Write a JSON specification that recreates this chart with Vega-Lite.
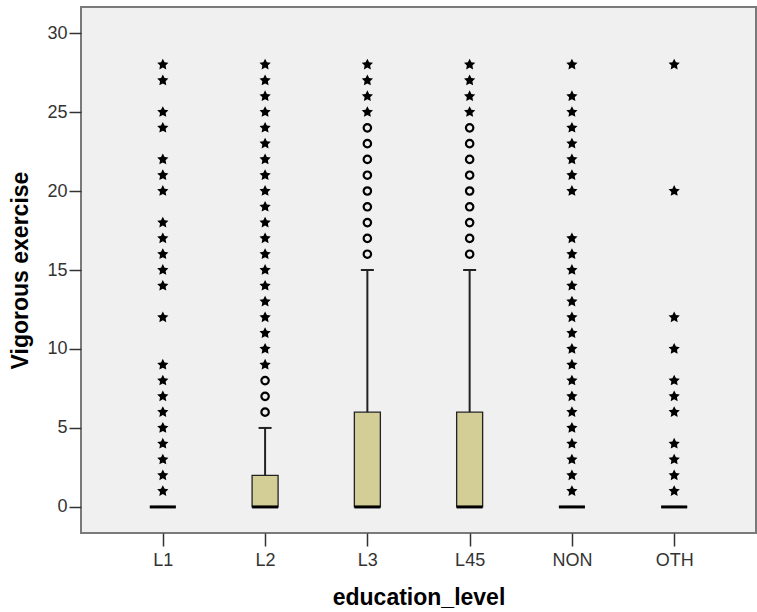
{
  "$schema": "https://vega.github.io/schema/vega-lite/v6.json",
  "autosize": {"type": "none"},
  "padding": {"left": 81, "top": 7, "right": 1, "bottom": 79},
  "width": 675,
  "height": 526,
  "background": "white",
  "config": {
    "view": {"fill": "#f0f0f0", "stroke": "#7a7a7a", "strokeWidth": 2},
    "axis": {"labelFont": "Liberation Sans", "titleFont": "Liberation Sans", "grid": false, "domain": false}
  },
  "datasets": {
    "boxes": [
      {"education_level": "L1", "q1": 0, "med": 0, "q3": 0, "hi": 0},
      {"education_level": "L2", "q1": 0, "med": 0, "q3": 2, "hi": 5},
      {"education_level": "L3", "q1": 0, "med": 0, "q3": 6, "hi": 15},
      {"education_level": "L45", "q1": 0, "med": 0, "q3": 6, "hi": 15},
      {"education_level": "NON", "q1": 0, "med": 0, "q3": 0, "hi": 0},
      {"education_level": "OTH", "q1": 0, "med": 0, "q3": 0, "hi": 0}
    ],
    "outliers": [
      {"education_level": "L1", "value": 1, "kind": "extreme"},
      {"education_level": "L1", "value": 2, "kind": "extreme"},
      {"education_level": "L1", "value": 3, "kind": "extreme"},
      {"education_level": "L1", "value": 4, "kind": "extreme"},
      {"education_level": "L1", "value": 5, "kind": "extreme"},
      {"education_level": "L1", "value": 6, "kind": "extreme"},
      {"education_level": "L1", "value": 7, "kind": "extreme"},
      {"education_level": "L1", "value": 8, "kind": "extreme"},
      {"education_level": "L1", "value": 9, "kind": "extreme"},
      {"education_level": "L1", "value": 12, "kind": "extreme"},
      {"education_level": "L1", "value": 14, "kind": "extreme"},
      {"education_level": "L1", "value": 15, "kind": "extreme"},
      {"education_level": "L1", "value": 16, "kind": "extreme"},
      {"education_level": "L1", "value": 17, "kind": "extreme"},
      {"education_level": "L1", "value": 18, "kind": "extreme"},
      {"education_level": "L1", "value": 20, "kind": "extreme"},
      {"education_level": "L1", "value": 21, "kind": "extreme"},
      {"education_level": "L1", "value": 22, "kind": "extreme"},
      {"education_level": "L1", "value": 24, "kind": "extreme"},
      {"education_level": "L1", "value": 25, "kind": "extreme"},
      {"education_level": "L1", "value": 27, "kind": "extreme"},
      {"education_level": "L1", "value": 28, "kind": "extreme"},
      {"education_level": "L2", "value": 6, "kind": "outlier"},
      {"education_level": "L2", "value": 7, "kind": "outlier"},
      {"education_level": "L2", "value": 8, "kind": "outlier"},
      {"education_level": "L2", "value": 9, "kind": "extreme"},
      {"education_level": "L2", "value": 10, "kind": "extreme"},
      {"education_level": "L2", "value": 11, "kind": "extreme"},
      {"education_level": "L2", "value": 12, "kind": "extreme"},
      {"education_level": "L2", "value": 13, "kind": "extreme"},
      {"education_level": "L2", "value": 14, "kind": "extreme"},
      {"education_level": "L2", "value": 15, "kind": "extreme"},
      {"education_level": "L2", "value": 16, "kind": "extreme"},
      {"education_level": "L2", "value": 17, "kind": "extreme"},
      {"education_level": "L2", "value": 18, "kind": "extreme"},
      {"education_level": "L2", "value": 19, "kind": "extreme"},
      {"education_level": "L2", "value": 20, "kind": "extreme"},
      {"education_level": "L2", "value": 21, "kind": "extreme"},
      {"education_level": "L2", "value": 22, "kind": "extreme"},
      {"education_level": "L2", "value": 23, "kind": "extreme"},
      {"education_level": "L2", "value": 24, "kind": "extreme"},
      {"education_level": "L2", "value": 25, "kind": "extreme"},
      {"education_level": "L2", "value": 26, "kind": "extreme"},
      {"education_level": "L2", "value": 27, "kind": "extreme"},
      {"education_level": "L2", "value": 28, "kind": "extreme"},
      {"education_level": "L3", "value": 16, "kind": "outlier"},
      {"education_level": "L3", "value": 17, "kind": "outlier"},
      {"education_level": "L3", "value": 18, "kind": "outlier"},
      {"education_level": "L3", "value": 19, "kind": "outlier"},
      {"education_level": "L3", "value": 20, "kind": "outlier"},
      {"education_level": "L3", "value": 21, "kind": "outlier"},
      {"education_level": "L3", "value": 22, "kind": "outlier"},
      {"education_level": "L3", "value": 23, "kind": "outlier"},
      {"education_level": "L3", "value": 24, "kind": "outlier"},
      {"education_level": "L3", "value": 25, "kind": "extreme"},
      {"education_level": "L3", "value": 26, "kind": "extreme"},
      {"education_level": "L3", "value": 27, "kind": "extreme"},
      {"education_level": "L3", "value": 28, "kind": "extreme"},
      {"education_level": "L45", "value": 16, "kind": "outlier"},
      {"education_level": "L45", "value": 17, "kind": "outlier"},
      {"education_level": "L45", "value": 18, "kind": "outlier"},
      {"education_level": "L45", "value": 19, "kind": "outlier"},
      {"education_level": "L45", "value": 20, "kind": "outlier"},
      {"education_level": "L45", "value": 21, "kind": "outlier"},
      {"education_level": "L45", "value": 22, "kind": "outlier"},
      {"education_level": "L45", "value": 23, "kind": "outlier"},
      {"education_level": "L45", "value": 24, "kind": "outlier"},
      {"education_level": "L45", "value": 25, "kind": "extreme"},
      {"education_level": "L45", "value": 26, "kind": "extreme"},
      {"education_level": "L45", "value": 27, "kind": "extreme"},
      {"education_level": "L45", "value": 28, "kind": "extreme"},
      {"education_level": "NON", "value": 1, "kind": "extreme"},
      {"education_level": "NON", "value": 2, "kind": "extreme"},
      {"education_level": "NON", "value": 3, "kind": "extreme"},
      {"education_level": "NON", "value": 4, "kind": "extreme"},
      {"education_level": "NON", "value": 5, "kind": "extreme"},
      {"education_level": "NON", "value": 6, "kind": "extreme"},
      {"education_level": "NON", "value": 7, "kind": "extreme"},
      {"education_level": "NON", "value": 8, "kind": "extreme"},
      {"education_level": "NON", "value": 9, "kind": "extreme"},
      {"education_level": "NON", "value": 10, "kind": "extreme"},
      {"education_level": "NON", "value": 11, "kind": "extreme"},
      {"education_level": "NON", "value": 12, "kind": "extreme"},
      {"education_level": "NON", "value": 13, "kind": "extreme"},
      {"education_level": "NON", "value": 14, "kind": "extreme"},
      {"education_level": "NON", "value": 15, "kind": "extreme"},
      {"education_level": "NON", "value": 16, "kind": "extreme"},
      {"education_level": "NON", "value": 17, "kind": "extreme"},
      {"education_level": "NON", "value": 20, "kind": "extreme"},
      {"education_level": "NON", "value": 21, "kind": "extreme"},
      {"education_level": "NON", "value": 22, "kind": "extreme"},
      {"education_level": "NON", "value": 23, "kind": "extreme"},
      {"education_level": "NON", "value": 24, "kind": "extreme"},
      {"education_level": "NON", "value": 25, "kind": "extreme"},
      {"education_level": "NON", "value": 26, "kind": "extreme"},
      {"education_level": "NON", "value": 28, "kind": "extreme"},
      {"education_level": "OTH", "value": 1, "kind": "extreme"},
      {"education_level": "OTH", "value": 2, "kind": "extreme"},
      {"education_level": "OTH", "value": 3, "kind": "extreme"},
      {"education_level": "OTH", "value": 4, "kind": "extreme"},
      {"education_level": "OTH", "value": 6, "kind": "extreme"},
      {"education_level": "OTH", "value": 7, "kind": "extreme"},
      {"education_level": "OTH", "value": 8, "kind": "extreme"},
      {"education_level": "OTH", "value": 10, "kind": "extreme"},
      {"education_level": "OTH", "value": 12, "kind": "extreme"},
      {"education_level": "OTH", "value": 20, "kind": "extreme"},
      {"education_level": "OTH", "value": 28, "kind": "extreme"}
    ]
  },
  "encoding": {
    "x": {
      "field": "education_level",
      "type": "nominal",
      "scale": {"type": "point", "padding": 0.8, "domain": ["L1", "L2", "L3", "L45", "NON", "OTH"]},
      "axis": {
        "orient": "bottom",
        "title": "education_level",
        "labelAngle": 0,
        "tickSize": 13,
        "tickColor": "#333333",
        "tickWidth": 1.5,
        "labelFontSize": 18,
        "labelColor": "#333333",
        "labelPadding": 5,
        "titleFontSize": 23,
        "titleFontWeight": "bold",
        "titleColor": "#000000",
        "titleY": 64,
        "titleBaseline": "middle"
      }
    }
  },
  "layer": [
    {
      "data": {"name": "boxes"},
      "mark": {"type": "bar", "width": 26, "fill": "#d3ce96", "stroke": "#222222", "strokeWidth": 1.3},
      "encoding": {
        "y": {
          "field": "q1",
          "type": "quantitative",
          "scale": {"domain": [-1.65, 31.65], "nice": false, "zero": false},
          "axis": {
            "orient": "left",
            "title": "Vigorous exercise",
            "values": [0, 5, 10, 15, 20, 25, 30],
            "tickSize": 12,
            "tickColor": "#333333",
            "tickWidth": 1.5,
            "labelFontSize": 18,
            "labelColor": "#333333",
            "labelPadding": 2,
            "titleFontSize": 23,
            "titleFontWeight": "bold",
            "titleColor": "#000000",
            "titleX": -61,
            "titleBaseline": "middle"
          }
        },
        "y2": {"field": "q3"}
      }
    },
    {
      "data": {"name": "boxes"},
      "mark": {"type": "rule", "stroke": "#222222", "strokeWidth": 2},
      "encoding": {
        "y": {"field": "q3", "type": "quantitative"},
        "y2": {"field": "hi"}
      }
    },
    {
      "data": {"name": "boxes"},
      "mark": {"type": "tick", "size": 13, "thickness": 2, "color": "#222222", "opacity": 1},
      "encoding": {
        "y": {"field": "hi", "type": "quantitative"}
      }
    },
    {
      "data": {"name": "boxes"},
      "mark": {"type": "tick", "size": 26, "thickness": 3, "color": "#000000", "opacity": 1},
      "encoding": {
        "y": {"field": "med", "type": "quantitative"}
      }
    },
    {
      "data": {"name": "outliers"},
      "transform": [{"filter": "datum.kind === 'outlier'"}],
      "mark": {"type": "point", "shape": "circle", "filled": false, "stroke": "#000000", "strokeWidth": 2.2, "size": 55, "opacity": 1},
      "encoding": {
        "y": {"field": "value", "type": "quantitative"}
      }
    },
    {
      "data": {"name": "outliers"},
      "transform": [{"filter": "datum.kind === 'extreme'"}],
      "mark": {"type": "point", "shape": "M0,-1L0.3,-0.4L0.951,-0.309L0.47,0.15L0.588,0.809L0,0.5L-0.588,0.809L-0.47,0.15L-0.951,-0.309L-0.3,-0.4Z", "filled": true, "fill": "#000000", "size": 140, "opacity": 1},
      "encoding": {
        "y": {"field": "value", "type": "quantitative"}
      }
    }
  ]
}
